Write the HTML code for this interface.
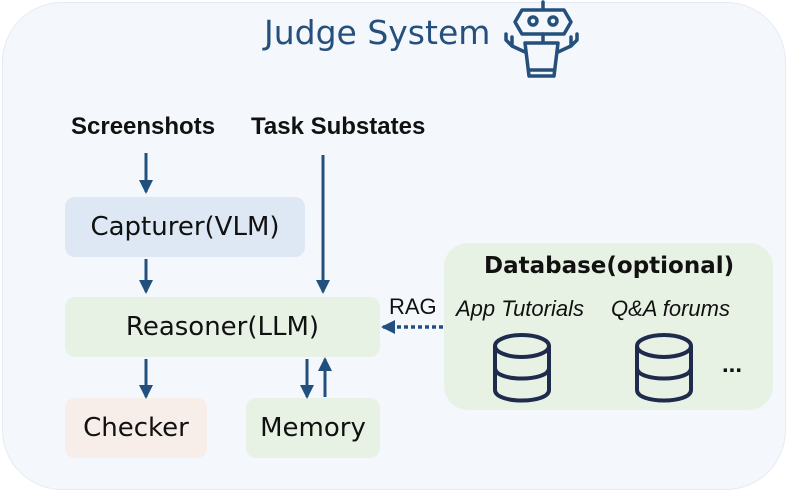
<!DOCTYPE html>
<html><head><style>
body{margin:0;width:797px;height:492px;background:#fff;position:relative;overflow:hidden;font-family:"Liberation Sans","DejaVu Sans",sans-serif}
.a{position:absolute}
.box{position:absolute;border-radius:10px;display:flex;align-items:center;justify-content:center;font-family:"DejaVu Sans","Liberation Sans",sans-serif;font-size:26px;color:#111}
</style></head><body>
<div class="a" style="left:2px;top:2px;width:782px;height:486px;border-radius:60px;background:#f4f7fc;border:1px solid #e6ebf3"></div>
<div class="a" style="left:264px;top:13px;font-family:'DejaVu Sans',sans-serif;font-size:33px;color:#26507c">Judge System</div>
<svg class="a" style="left:0;top:0" width="600" height="85" fill="none" stroke="#26507c" stroke-width="3.5" stroke-linejoin="round" stroke-linecap="round">
<path d="M543 2v8 M522 10h42l7 12-7 12H522l-7-12z"/><circle cx="533" cy="21" r="4"/><circle cx="553" cy="21" r="4"/>
<path d="M543 34v8 M525 43h33l-4 33H529z M530 70h24 M525 52l-13-6v-9 M512 46l-6-6v-6 M558 52l13-6v-9 M571 46l6-6v-6"/>
</svg>
<div class="a" style="left:71px;top:113px;font-size:24px;font-weight:bold;color:#111">Screenshots</div>
<div class="a" style="left:251px;top:113px;font-size:24px;font-weight:bold;color:#111">Task Substates</div>
<div class="box" style="left:65px;top:197px;width:240px;height:60px;background:#dde8f4">Capturer(VLM)</div>
<div class="box" style="left:65px;top:297px;width:315px;height:60px;background:#e7f2e4">Reasoner(LLM)</div>
<div class="box" style="left:65px;top:398px;width:142px;height:60px;background:#f7ede9">Checker</div>
<div class="box" style="left:246px;top:398px;width:134px;height:60px;background:#e7f2e4">Memory</div>
<div class="a" style="left:444px;top:243px;width:329px;height:167px;border-radius:24px;background:#e7f2e4"></div>
<div class="a" style="left:484px;top:253px;font-family:'DejaVu Sans',sans-serif;font-size:23px;font-weight:bold;color:#111">Database(optional)</div>
<div class="a" style="left:456px;top:296px;font-size:22px;font-style:italic;color:#111">App Tutorials</div>
<div class="a" style="left:611px;top:296px;font-size:22px;font-style:italic;color:#111">Q&amp;A forums</div>
<div class="a" style="left:389px;top:294px;font-size:22px;color:#111">RAG</div>
<div class="a" style="left:722px;top:351px;font-size:24px;font-weight:bold;color:#111">...</div>
<svg class="a" style="left:0;top:0" width="797" height="492">
<defs><marker id="m" markerWidth="14" markerHeight="14" refX="12" refY="7" orient="auto" markerUnits="userSpaceOnUse"><path d="M0,0 L14,7 L0,14z" fill="#22507e"/></marker></defs>
<g stroke="#22507e" stroke-width="3" fill="none">
<line x1="146" y1="153" x2="146" y2="192" marker-end="url(#m)"/>
<line x1="323" y1="155" x2="323" y2="292" marker-end="url(#m)"/>
<line x1="146" y1="259" x2="146" y2="292" marker-end="url(#m)"/>
<line x1="146" y1="359" x2="146" y2="397" marker-end="url(#m)"/>
<line x1="307" y1="359" x2="307" y2="397" marker-end="url(#m)"/>
<line x1="325" y1="397" x2="325" y2="359" marker-end="url(#m)"/>
<line x1="443" y1="327" x2="383" y2="327" stroke-dasharray="4,3" stroke-width="3.5" marker-end="url(#m)"/>
</g>
<g stroke="#1f2b4d" stroke-width="4" fill="none">
<g transform="translate(495,334)"><ellipse cx="27" cy="12" rx="27" ry="11"/><path d="M0 12v44c0 14 54 14 54 0V12 M0 34c0 14 54 14 54 0"/></g>
<g transform="translate(637,334)"><ellipse cx="27" cy="12" rx="27" ry="11"/><path d="M0 12v44c0 14 54 14 54 0V12 M0 34c0 14 54 14 54 0"/></g>
</g>
</svg>
</body></html>
